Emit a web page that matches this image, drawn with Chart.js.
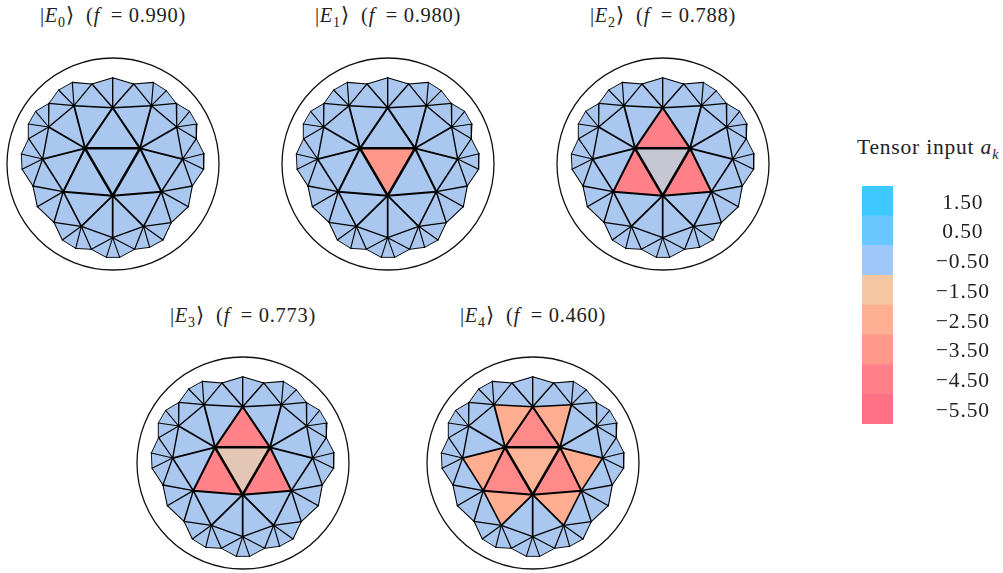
<!DOCTYPE html>
<html>
<head>
<meta charset="utf-8">
<title>Tensor input states</title>
<script src="https://cdn.jsdelivr.net/npm/chart.js@4"></script>
<style>
  html, body { margin: 0; padding: 0; background: #fff; }
  #page { position: relative; width: 1003px; height: 573px; overflow: hidden; font-family: "Liberation Serif", serif; color: #222; }
  canvas { position: absolute; }
  .label { position: absolute; font-size: 20.5px; letter-spacing: 0.7px; white-space: nowrap; line-height: 22px; }
  .label sub { font-size: 14px; line-height: 0; }
  .label.big { font-size: 21.5px; letter-spacing: 0.8px; }
</style>
</head>
<body>
<div id="page"></div>
<script>
// mesh vertices, disk units (circle radius = 1). 0-14 inner, 15-47 outer rim clockwise from top
const vertexX = [-0.264, 0.255, -0.003, -0.003, 0.456, -0.469, -0.368, 0.362, -0.607, 0.601, -0.664, 0.657, -0.299, 0.289, -0.003,
  -0.003, 0.195, 0.381, 0.503, 0.597, 0.723, 0.792, 0.786, 0.858, 0.855, 0.748, 0.711, 0.550, 0.472, 0.346, 0.204, 0.063,
  -0.063, -0.204, -0.352, -0.478, -0.557, -0.714, -0.755, -0.858, -0.865, -0.796, -0.799, -0.730, -0.604, -0.513, -0.384, -0.198];
const vertexY = [0.148, 0.148, -0.299, 0.531, -0.261, -0.261, 0.550, 0.550, 0.349, 0.349, 0.047, 0.047, -0.588, -0.588, -0.695,
  0.814, 0.755, 0.770, 0.692, 0.572, 0.497, 0.377, 0.239, 0.097, -0.050, -0.208, -0.403, -0.553, -0.717, -0.786, -0.805, -0.881,
  -0.881, -0.805, -0.796, -0.717, -0.550, -0.403, -0.208, -0.050, 0.094, 0.239, 0.377, 0.497, 0.572, 0.698, 0.770, 0.755];

// first ten triangles are the ones that change between states
const triangles = [
  [0,1,2],[0,1,3],[1,2,4],[0,2,5],[0,3,6],[1,3,7],[1,4,11],[2,4,13],[2,5,12],[0,5,10],
  [1,7,9],[1,9,11],[2,13,14],[2,14,12],[0,10,8],[0,8,6],
  [3,6,47],[3,47,15],[3,15,16],[3,16,7],
  [7,16,17],[7,17,18],[7,18,19],[7,19,9],
  [9,19,20],[9,20,21],[9,21,22],[9,22,11],
  [11,22,23],[11,23,24],[11,24,25],[11,25,4],
  [4,25,26],[4,26,27],[4,27,13],
  [13,27,28],[13,28,29],[13,29,30],[13,30,14],
  [14,30,31],[14,31,32],[14,32,33],[14,33,12],
  [12,33,34],[12,34,35],[12,35,36],[12,36,5],
  [5,36,37],[5,37,38],[5,38,10],
  [10,38,39],[10,39,40],[10,40,41],[10,41,8],
  [8,41,42],[8,42,43],[8,43,44],[8,44,6],
  [6,44,45],[6,45,46],[6,46,47]
];

const baseValue = -0.63;
const valuesE0 = [-0.63, -0.63, -0.63, -0.63, -0.63, -0.63, -0.63, -0.63, -0.63, -0.63];
const valuesE1 = [-3.6, -0.63, -0.63, -0.63, -0.63, -0.63, -0.63, -0.63, -0.63, -0.63];
const valuesE2 = [-0.95, -4.5, -4.5, -4.5, -0.63, -0.63, -0.63, -0.63, -0.63, -0.63];
const valuesE3 = [-1.3, -4.4, -4.4, -4.4, -0.63, -0.63, -0.63, -0.63, -0.63, -0.63];
const valuesE4 = [-2.2, -4.1, -4.1, -4.1, -2.6, -2.6, -2.6, -2.6, -2.6, -2.6];

const stateNames = ["E0", "E1", "E2", "E3", "E4"];
const stateFidelity = ["0.990", "0.980", "0.788", "0.773", "0.460"];
const stateValues = [valuesE0, valuesE1, valuesE2, valuesE3, valuesE4];

const barLabels = ["1.50", "0.50", "\u22120.50", "\u22121.50", "\u22122.50", "\u22123.50", "\u22124.50", "\u22125.50"];
const barLevels = [1.5, 0.5, -0.5, -1.5, -2.5, -3.5, -4.5, -5.5];
const barColors = ["#3DC8FF", "#69C6FF", "#9FC8FA", "#F5C6A2", "#FFAF92", "#FF9A8A", "#FF8088", "#FF7085"];

// layout of the panels on the page
const panelCenters = [[113.3, 164], [388, 164], [662.7, 164], [243, 463.3], [533.3, 463.3]];
const titleLefts = [[40, 4], [315, 4], [590, 4], [170, 304], [460, 304]];
const diskRadius = 106;
const canvasSize = 230;

const page = document.getElementById("page");

function hexToRgb(h) {
  return [1, 3, 5].map(i => parseInt(h.substr(i, 2), 16));
}

// colour between the two nearest colourbar levels
function colorFor(v) {
  for (let i = 0; i < barLevels.length - 1; i++) {
    if (v <= barLevels[i] && v >= barLevels[i + 1]) {
      const t = (barLevels[i] - v) / (barLevels[i] - barLevels[i + 1]);
      const a = hexToRgb(barColors[i]), b = hexToRgb(barColors[i + 1]);
      return `rgb(${a.map((c, k) => Math.round(c + (b[k] - c) * t)).join(",")})`;
    }
  }
  return barColors[barColors.length - 1];
}

function pt(i) {
  return { x: vertexX[i], y: vertexY[i] };
}

// every mesh edge once
function meshEdges() {
  const seen = new Set(), out = [];
  triangles.forEach(t => {
    [[t[0], t[1]], [t[1], t[2]], [t[2], t[0]]].forEach(([a, b]) => {
      const key = Math.min(a, b) + "-" + Math.max(a, b);
      if (!seen.has(key)) { seen.add(key); out.push([a, b]); }
    });
  });
  return out;
}

// lines get thinner towards the rim
function edgeWidth(a, b) {
  const r = Math.hypot((vertexX[a] + vertexX[b]) / 2, (vertexY[a] + vertexY[b]) / 2);
  return 0.6 + 2.3 * (1 - r);
}

function drawPanel(n) {
  const canvas = document.createElement("canvas");
  canvas.width = canvasSize;
  canvas.height = canvasSize;
  canvas.style.left = (panelCenters[n][0] - canvasSize / 2) + "px";
  canvas.style.top = (panelCenters[n][1] - canvasSize / 2) + "px";
  canvas.style.width = canvasSize + "px";
  canvas.style.height = canvasSize + "px";
  page.appendChild(canvas);

  const range = canvasSize / 2 / diskRadius;
  const datasets = [];

  // outer circle
  datasets.push({
    data: [{ x: 0, y: 0 }],
    pointRadius: diskRadius,
    pointBackgroundColor: "rgba(0,0,0,0)",
    pointBorderColor: "#111",
    pointBorderWidth: 1.3,
    showLine: false,
    order: 0
  });

  meshEdges().forEach(([a, b]) => {
    datasets.push({
      data: [pt(a), pt(b)],
      showLine: true,
      borderColor: "#000",
      borderWidth: edgeWidth(a, b),
      borderCapStyle: "round",
      pointRadius: 0,
      fill: false,
      order: 1
    });
  });

  triangles.forEach((t, i) => {
    const v = i < stateValues[n].length ? stateValues[n][i] : baseValue;
    datasets.push({
      data: [pt(t[0]), pt(t[1]), pt(t[2]), pt(t[0])],
      showLine: true,
      borderWidth: 0,
      borderColor: colorFor(v),
      backgroundColor: colorFor(v),
      pointRadius: 0,
      fill: "shape",
      order: 2
    });
  });

  new Chart(canvas.getContext("2d"), {
    type: "scatter",
    data: { datasets },
    options: {
      responsive: false,
      animation: false,
      events: [],
      clip: false,
      layout: { padding: 0, autoPadding: false },
      plugins: { legend: { display: false }, tooltip: { enabled: false } },
      scales: {
        x: { type: "linear", display: false, min: -range, max: range },
        y: { type: "linear", display: false, min: -range, max: range }
      }
    }
  });

  const title = document.createElement("div");
  title.className = "label";
  title.style.left = titleLefts[n][0] + "px";
  title.style.top = titleLefts[n][1] + "px";
  title.innerHTML = `|<i>E</i><sub>${stateNames[n].slice(1)}</sub>\u27E9&nbsp; (<i>f</i>&thinsp; = ${stateFidelity[n]})`;
  page.appendChild(title);
}

function drawColorbar() {
  const canvas = document.createElement("canvas");
  canvas.width = 141;
  canvas.height = 238;
  canvas.style.left = "862px";
  canvas.style.top = "186px";
  canvas.style.width = "141px";
  canvas.style.height = "238px";
  page.appendChild(canvas);

  new Chart(canvas.getContext("2d"), {
    type: "bar",
    data: {
      labels: barLabels,
      datasets: [{
        data: barLabels.map(() => 1),
        backgroundColor: barColors,
        barPercentage: 1,
        categoryPercentage: 1,
        borderWidth: 0
      }]
    },
    options: {
      indexAxis: "y",
      responsive: false,
      animation: false,
      events: [],
      layout: { padding: 0, autoPadding: false },
      plugins: { legend: { display: false }, tooltip: { enabled: false } },
      scales: {
        x: { display: false, min: 0, max: 1 },
        y: {
          position: "right",
          afterFit: scale => {
            scale.width = 110;
            scale.paddingTop = 0;
            scale.paddingBottom = 0;
          },
          grid: { display: false, drawTicks: false },
          border: { display: false },
          ticks: {
            color: "#222",
            padding: 45,
            labelOffset: 2,
            crossAlign: "center",
            autoSkip: false,
            font: { family: "Liberation Serif", size: 21.5 }
          }
        }
      }
    },
    plugins: [{
      id: "tickSpacing",
      beforeDraw: chart => { chart.ctx.letterSpacing = "0.9px"; }
    }]
  });

  const title = document.createElement("div");
  title.className = "label big";
  title.style.left = "857px";
  title.style.top = "136px";
  title.innerHTML = "Tensor input <i>a<sub>k</sub></i>";
  page.appendChild(title);
}

stateNames.forEach((_, n) => drawPanel(n));
drawColorbar();
</script>
</body>
</html>
